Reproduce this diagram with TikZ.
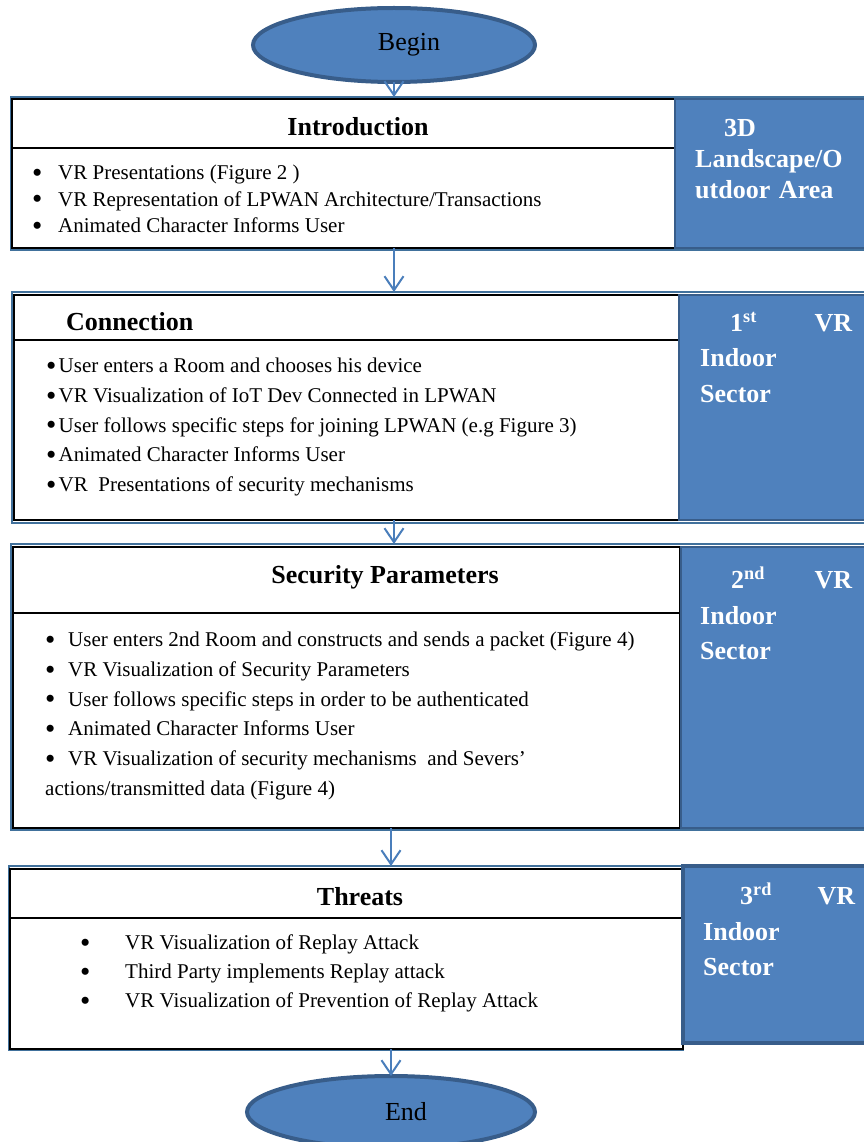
\documentclass[tikz,border=0pt]{standalone}
\usepackage{fontspec}
\setmainfont{Liberation Serif}
\usepackage{tikz}
\usepackage{xcolor}
\usetikzlibrary{arrows.meta,positioning,shapes.geometric}
\definecolor{vrblue}{RGB}{79,129,189}
\definecolor{vrdark}{RGB}{56,93,138}
\definecolor{vrline}{RGB}{65,113,156}
\definecolor{vrarrow}{RGB}{74,126,187}
\newcommand{\vrbul}{\smash{\raisebox{-2.6pt}{\scalebox{1.4}{\textbullet}}}}

\begin{document}
\begin{tikzpicture}[x=1pt, y=-1pt,
  terminal/.style={ellipse, draw=vrdark, line width=4pt, fill=vrblue, inner sep=0pt, outer sep=0pt},
  termtext/.style={font=\fontsize{26}{30}\selectfont, inner sep=0pt},
  groupframe/.style={draw=vrline, line width=2.5pt, anchor=north west, inner sep=0pt, outer sep=0pt},
  whitebox/.style={draw=black, line width=1.2pt, fill=white, anchor=north west, inner sep=0pt, outer sep=0pt},
  sidebox/.style={draw=vrdark, line width=1.5pt, fill=vrblue, anchor=north west, inner sep=0pt, outer sep=0pt},
  title/.style={font=\bfseries\fontsize{26}{30}\selectfont, inner sep=0pt},
  sidetext/.style={text=white, align=left, anchor=north west, inner sep=0pt, text width=152pt},
  itemlist/.style={align=left, anchor=north west, inner sep=0pt},
  flow/.style={draw=vrarrow, line width=2pt, -{Straight Barb[length=14pt,width=19pt]}}
]
\useasboundingbox (0,0) rectangle (863,1142);

% Begin
\node[terminal, minimum width=282pt, minimum height=74pt] (begin) at (394,45) {};
\node[termtext] (begintxt) at ([xshift=15pt]begin.center) {Begin};

% Introduction
\node[groupframe, minimum width=855pt, minimum height=153pt] (introframe) at (11,97) {};
\node[whitebox, minimum width=663pt, minimum height=49pt] (introhead) at (12,99) {};
\node[whitebox, minimum width=663pt, minimum height=100pt] (introbody) at (12,148) {};
\node[sidebox, minimum width=191pt, minimum height=149pt] (introside) at (675,99) {};
\node[title, anchor=base] (introtitle) at (358,136) {Introduction};
\node[itemlist, font=\fontsize{21}{26.5}\selectfont] (introlist) at (32,165) {%
  \makebox[26pt][l]{\vrbul}VR Presentations (Figure 2 )\\
  \makebox[26pt][l]{\vrbul}VR Representation of LPWAN Architecture/Transactions\\
  \makebox[26pt][l]{\vrbul}Animated Character Informs User};
\node[sidetext, font=\bfseries\fontsize{26}{31}\selectfont] (introsector) at (695,119) {%
  \hspace*{29pt}3D\\Landscape/O\\utdoor Area};

% Connection
\node[groupframe, minimum width=854pt, minimum height=231pt] (connframe) at (12,292) {};
\node[whitebox, minimum width=665pt, minimum height=45pt] (connhead) at (14,295) {};
\node[whitebox, minimum width=665pt, minimum height=180pt] (connbody) at (14,340) {};
\node[sidebox, minimum width=187pt, minimum height=225pt] (connside) at (679,295) {};
\node[title, anchor=base west] (conntitle) at (66,330) {Connection};
\node[itemlist, font=\fontsize{21}{29.7}\selectfont] (connlist) at (46,358) {%
  \makebox[12.5pt][l]{\vrbul}User enters a Room and chooses his device\\
  \makebox[12.5pt][l]{\vrbul}VR Visualization of IoT Dev Connected in LPWAN\\
  \makebox[12.5pt][l]{\vrbul}User follows specific steps for joining LPWAN (e.g Figure 3)\\
  \makebox[12.5pt][l]{\vrbul}Animated Character Informs User\\
  \makebox[12.5pt][l]{\vrbul}VR\ \ Presentations of security mechanisms};
\node[sidetext, font=\bfseries\fontsize{26}{35.5}\selectfont] (connsector) at (700,312) {%
  \hspace*{30pt}1\textsuperscript{st}\hfill VR\\Indoor\\Sector};

% Security parameters
\node[groupframe, minimum width=855pt, minimum height=286pt] (secframe) at (11,544) {};
\node[whitebox, minimum width=667pt, minimum height=66pt] (sechead) at (13,547) {};
\node[whitebox, minimum width=667pt, minimum height=215pt] (secbody) at (13,613) {};
\node[sidebox, minimum width=185pt, minimum height=281pt] (secside) at (681,547) {};
\node[title, anchor=base] (sectitle) at (385,583) {Security Parameters};
\node[itemlist, font=\fontsize{21}{29.7}\selectfont] (seclist) at (45,632) {%
  \makebox[23pt][l]{\vrbul}User enters 2nd Room and constructs and sends a packet (Figure 4)\\
  \makebox[23pt][l]{\vrbul}VR Visualization of Security Parameters\\
  \makebox[23pt][l]{\vrbul}User follows specific steps in order to be authenticated\\
  \makebox[23pt][l]{\vrbul}Animated Character Informs User\\
  \makebox[23pt][l]{\vrbul}VR Visualization of security mechanisms\ \ and Severs'\\
  actions/transmitted data (Figure 4)};
\node[sidetext, font=\bfseries\fontsize{26}{35.5}\selectfont] (secsector) at (700,567) {%
  \hspace*{31pt}2\textsuperscript{nd}\hfill VR\\Indoor\\Sector};

% Threats
\node[groupframe, minimum width=674pt, minimum height=184pt] (thrframe) at (9,866) {};
\node[whitebox, minimum width=673pt, minimum height=49pt] (thrhead) at (10,869) {};
\node[whitebox, minimum width=673pt, minimum height=131pt] (thrbody) at (10,918) {};
\node[sidebox, line width=4pt, minimum width=183pt, minimum height=177pt] (thrside) at (683,866) {};
\node[title, anchor=base] (thrtitle) at (360,905) {Threats};
\node[itemlist, font=\fontsize{21}{29}\selectfont] (thrlist) at (80,935) {%
  \makebox[45pt][l]{\vrbul}VR Visualization of Replay Attack\\
  \makebox[45pt][l]{\vrbul}Third Party implements Replay attack\\
  \makebox[45pt][l]{\vrbul}VR Visualization of Prevention of Replay Attack};
\node[sidetext, font=\bfseries\fontsize{26}{35.5}\selectfont] (thrsector) at (703,883) {%
  \hspace*{37pt}3\textsuperscript{rd}\hfill VR\\Indoor\\Sector};

% End
\node[terminal, minimum width=288pt, minimum height=72pt] (end) at (391,1112) {};
\node[termtext] (endtxt) at ([xshift=15pt]end.center) {End};

% Connectors
\draw[flow] (begin.south) -- (begin.south |- introframe.north);
\draw[flow] (introbody.south -| begin.south) -- (begin.south |- connframe.north);
\draw[flow] (connbody.south -| begin.south) -- (begin.south |- secframe.north);
\draw[flow] (secbody.south -| end.north) -- (end.north |- thrframe.north);
\draw[flow] (thrbody.south -| end.north) -- (end.north);
\end{tikzpicture}
\end{document}
